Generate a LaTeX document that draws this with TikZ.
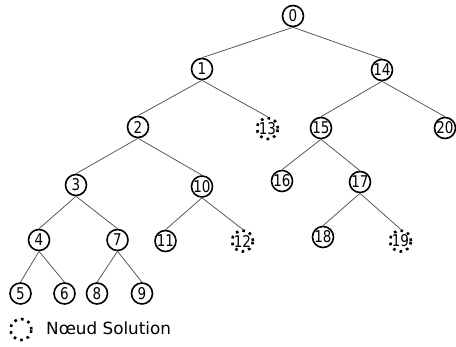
\documentclass[tikz,border=0pt]{standalone}
\usepackage{fontspec}
\setmainfont{DejaVu Sans}
\newcommand{\stx}[1]{\scalebox{1}[1.2]{#1}}
\begin{document}
\begin{tikzpicture}[x=1pt,y=-1pt,
  nd/.style={circle,draw=black,line width=1.6pt,minimum size=21pt,inner sep=0pt,font=\fontsize{13.5}{13.5}\selectfont},
  sol/.style={circle,draw=black,line width=2.6pt,dash pattern=on 2.6pt off 4.3pt,minimum size=21pt,inner sep=0pt,font=\fontsize{13.5}{13.5}\selectfont},
  ed/.style={draw=black!65,line width=0.8pt}]
\useasboundingbox (0,0) rectangle (456,347);
\node[nd] (n0) at (293,16) {\stx{0}};
\node[nd] (n1) at (202,69) {\stx{1}};
\node[nd] (n14) at (382,70) {\stx{14}};
\node[nd] (n2) at (138,127) {\stx{2}};
\node[sol] (n13) at (267.5,128.5) {\stx{13}};
\node[nd] (n15) at (321,128) {\stx{15}};
\node[nd] (n20) at (445,128) {\stx{20}};
\node[nd] (n3) at (76,185) {\stx{3}};
\node[nd] (n10) at (202,186.5) {\stx{10}};
\node[nd] (n16) at (282,181) {\stx{16}};
\node[nd] (n17) at (360,182) {\stx{17}};
\node[nd] (n4) at (39,240) {\stx{4}};
\node[nd] (n7) at (117.5,240) {\stx{7}};
\node[nd] (n11) at (165.5,241) {\stx{11}};
\node[sol] (n12) at (242.5,241) {\stx{12}};
\node[nd] (n18) at (323,237) {\stx{18}};
\node[sol] (n19) at (400.5,241) {\stx{19}};
\node[nd] (n5) at (20.5,293.5) {\stx{5}};
\node[nd] (n6) at (64.5,293.5) {\stx{6}};
\node[nd] (n8) at (97,293.5) {\stx{8}};
\node[nd] (n9) at (142,293.5) {\stx{9}};
\node[sol] (leg) at (21,329.5) {};
\node[anchor=base west,inner sep=0pt,font=\fontsize{16.8}{16.8}\selectfont] (legt) at (46,335) {Nœud Solution};
\foreach \a/\b in {n0/n1,n0/n14,n1/n2,n1/n13,n14/n15,n14/n20,n2/n3,n2/n10,n15/n16,n15/n17,n3/n4,n3/n7,n10/n11,n10/n12,n17/n18,n17/n19,n4/n5,n4/n6,n7/n8,n7/n9}
  \draw[ed] (\a.south) -- (\b.north);
\end{tikzpicture}
\end{document}
